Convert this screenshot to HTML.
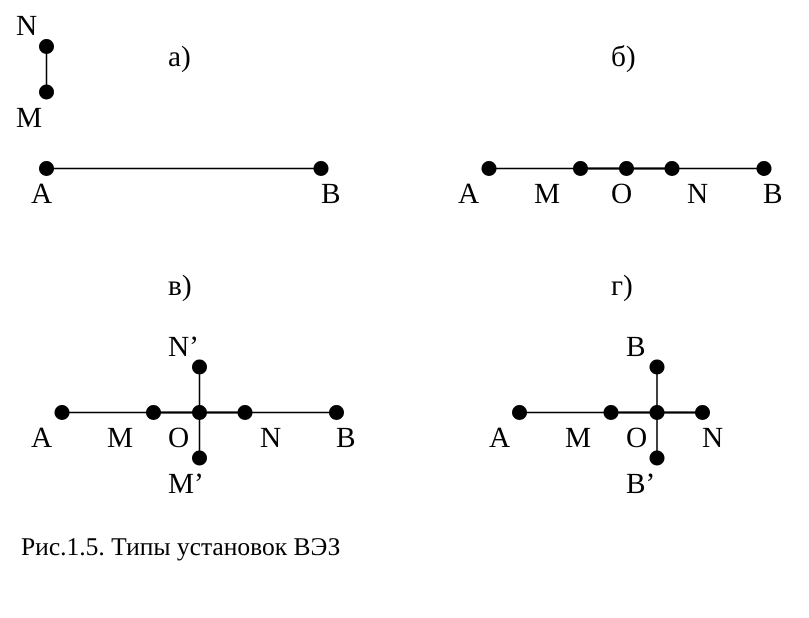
<!DOCTYPE html>
<html>
<head>
<meta charset="utf-8">
<style>
html,body{margin:0;padding:0;background:#fff;}
svg{display:block;}
text{font-family:"Liberation Serif",serif;font-size:29.300px;fill:#000;text-rendering:geometricPrecision;}
line{stroke:#000;stroke-width:1.5;}
line.t{stroke-width:2.2;}
circle{fill:#000;}
</style>
</head>
<body>
<svg width="809" height="618" viewBox="0 0 809 618" xmlns="http://www.w3.org/2000/svg">
<!-- a -->
<line x1="46.5" y1="46" x2="46.5" y2="92"/>
<line x1="46" y1="168.500" x2="321" y2="168.500"/>
<circle cx="46.500" cy="46.500" r="7.500"/>
<circle cx="46.500" cy="92" r="7.500"/>
<circle cx="46.500" cy="168.500" r="7.500"/>
<circle cx="321" cy="168.500" r="7.500"/>
<text x="16" y="35">N</text>
<text x="16" y="127">M</text>
<text x="31" y="203">A</text>
<text x="321" y="203">B</text>
<text x="168" y="66">а)</text>
<!-- b -->
<line x1="489" y1="168.500" x2="764" y2="168.500"/>
<line class="t" x1="580" y1="168.500" x2="672" y2="168.500"/>
<circle cx="489" cy="168.500" r="7.500"/>
<circle cx="580.500" cy="168.500" r="7.500"/>
<circle cx="626.500" cy="168.500" r="7.500"/>
<circle cx="672" cy="168.500" r="7.500"/>
<circle cx="764" cy="168.500" r="7.500"/>
<text x="458" y="203">A</text>
<text x="534" y="203">M</text>
<text x="611" y="203">O</text>
<text x="687" y="203">N</text>
<text x="763" y="203">B</text>
<text x="611" y="66">б)</text>
<!-- v -->
<line x1="62" y1="412.500" x2="337" y2="412.500"/>
<line class="t" x1="153" y1="412.500" x2="245" y2="412.500"/>
<line x1="199.500" y1="367" x2="199.500" y2="458"/>
<circle cx="62" cy="412.500" r="7.500"/>
<circle cx="153.500" cy="412.500" r="7.500"/>
<circle cx="199.500" cy="412.500" r="7.500"/>
<circle cx="245" cy="412.500" r="7.500"/>
<circle cx="336.500" cy="412.500" r="7.500"/>
<circle cx="199.500" cy="367" r="7.500"/>
<circle cx="199.500" cy="458" r="7.500"/>
<text x="168" y="356">N’</text>
<text x="168" y="493">M’</text>
<text x="31" y="447">A</text>
<text x="107" y="447">M</text>
<text x="168" y="447">O</text>
<text x="260" y="447">N</text>
<text x="336" y="447">B</text>
<text x="168" y="295">в)</text>
<!-- g -->
<line x1="519" y1="412.500" x2="702" y2="412.500"/>
<line class="t" x1="611" y1="412.500" x2="702" y2="412.500"/>
<line x1="657" y1="367" x2="657" y2="458"/>
<circle cx="519.500" cy="412.500" r="7.500"/>
<circle cx="611" cy="412.500" r="7.500"/>
<circle cx="657" cy="412.500" r="7.500"/>
<circle cx="702.500" cy="412.500" r="7.500"/>
<circle cx="657" cy="367" r="7.500"/>
<circle cx="657" cy="458" r="7.500"/>
<text x="626" y="356">B</text>
<text x="626" y="493">B’</text>
<text x="489" y="447">A</text>
<text x="565" y="447">M</text>
<text x="626" y="447">O</text>
<text x="702" y="447">N</text>
<text x="611" y="295">г)</text>
<!-- caption -->
<text x="21" y="555" style="font-size:25.500px">Рис.1.5. Типы установок ВЭЗ</text>
</svg>
</body>
</html>
